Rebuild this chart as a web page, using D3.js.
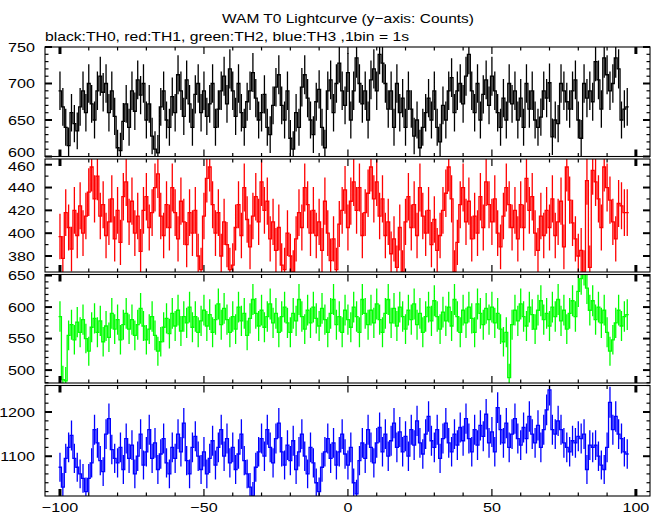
<!DOCTYPE html>
<html><head><meta charset="utf-8">
<script src="https://cdn.jsdelivr.net/npm/d3@7"></script>
<style>body{margin:0;background:#fff}svg{display:block}</style>
</head><body><svg id="c" width="662" height="515"></svg>
<script>
// ---- data (counts per 1 s bin, bins starting at t = -100 s) ----
const binStart = -100;
const binWidth = 1;
const th0 = [
690,668,640,615,660,645,635,668,690,660,
700,672,650,690,710,688,700,660,690,655,
612,608,648,672,640,690,662,705,684,700,
650,672,628,610,605,668,690,650,640,682,
660,712,690,655,705,672,640,685,700,660,
690,655,672,700,640,665,690,710,672,720,
690,655,700,660,640,675,690,715,680,650,
660,685,640,630,670,695,712,670,650,690,
625,610,660,640,695,712,680,650,630,675,
692,640,612,690,705,660,700,728,690,670,
715,650,690,735,700,672,690,650,705,720,
690,740,728,700,665,690,640,700,660,680,
640,690,665,628,650,612,640,660,680,650,
690,640,620,670,650,690,708,660,690,700,
672,710,740,690,660,700,650,685,705,670,
710,690,660,640,680,650,700,672,690,650,
680,640,700,665,690,650,640,654,690,680,
701,627,650,645,700,690,675,665,690,705,
650,625,700,680,690,675,730,705,665,735,
712,690,700,735,720,650,665,668];
const th1 = [
397,378,418,405,386,420,398,424,400,415,
436,458,430,450,415,425,398,410,430,395,
420,392,432,445,410,428,400,415,384,420,
432,405,418,440,452,415,398,425,405,440,
418,395,428,410,390,418,400,420,380,368,
415,448,458,425,400,418,380,410,390,368,
372,405,425,398,440,412,388,415,432,410,
445,420,428,395,410,385,405,372,368,400,
380,366,395,418,405,440,425,400,420,398,
410,385,428,400,376,395,368,408,420,438,
405,428,445,420,440,398,418,435,458,430,
445,415,430,398,410,382,395,370,405,366,
410,432,405,425,398,440,415,400,420,390,
412,385,398,420,435,458,430,366,392,425,
440,410,428,395,415,400,432,405,445,425,
410,430,400,388,415,440,425,405,420,395,
425,405,448,420,432,400,385,415,398,420,
405,430,398,410,428,388,458,429,409,395,
380,385,366,446,370,455,445,430,405,458,
440,429,410,395,426,424,418,418];
const th2 = [
585,485,483,555,572,548,576,560,580,550,
530,568,582,560,578,545,570,552,590,565,
580,548,572,590,565,580,555,572,598,570,
548,565,585,555,530,545,568,582,558,590,
570,595,562,585,575,600,568,585,560,578,
595,570,588,560,580,605,572,598,580,560,
585,565,600,578,590,555,582,612,590,570,
595,568,585,605,575,590,560,585,600,575,
560,590,578,612,585,565,595,575,600,582,
570,598,580,560,590,612,572,585,560,595,
580,568,600,585,560,612,590,572,595,575,
605,580,560,590,612,575,598,570,600,585,
565,595,580,605,572,590,560,585,600,578,
610,585,565,592,578,600,570,612,585,560,
595,575,600,582,560,605,590,572,598,580,
600,575,590,565,545,560,488,572,595,578,
605,585,570,600,588,565,595,610,580,590,
570,600,585,612,578,595,565,590,610,585,
625,645,660,630,595,610,580,600,575,595,
560,530,548,575,595,570,585,588];
const th3 = [
1075,1030,1095,1120,1147,1095,1075,1060,1050,1020,
1050,1085,1160,1130,1090,1065,1150,1185,1115,1095,
1085,1120,1070,1140,1095,1125,1060,1100,1150,1080,
1110,1160,1095,1130,1070,1105,1140,1085,1060,1120,
1095,1150,1110,1175,1090,1060,1120,1145,1100,1070,
1110,1060,1095,1135,1080,1120,1160,1100,1140,1085,
1120,1070,1105,1150,1090,1060,1030,1010,1075,1110,
1140,1100,1160,1120,1085,1140,1175,1110,1080,1125,
1090,1135,1070,1110,1150,1100,1060,1120,1085,1040,
1020,1075,1110,1140,1095,1130,1080,1110,1150,1105,
1080,1120,1040,1015,1090,1130,1095,1160,1120,1085,
1130,1165,1110,1150,1100,1135,1175,1120,1155,1110,
1145,1100,1160,1125,1180,1130,1105,1150,1190,1135,
1120,1160,1095,1140,1175,1130,1110,1150,1125,1165,
1135,1185,1140,1110,1160,1125,1170,1145,1195,1130,
1155,1110,1210,1160,1130,1175,1120,1150,1185,1140,
1125,1165,1140,1190,1150,1130,1170,1120,1160,1205,
1250,1160,1150,1180,1160,1130,1120,1110,1135,1130,
1145,1140,1150,1070,1125,1120,1125,1100,1080,1070,
1120,1222,1160,1190,1150,1140,1110,1105];

const seriesList = [th0, th1, th2, th3];
const colors = ["#000000", "#ff0000", "#00ff00", "#0000ff"];
const yDomains = [[600, 750], [366, 465], [479.5, 651.7], [1010, 1260]];
const yMajorTicks = [[600, 650, 700, 750], [380, 400, 420, 440, 460], [500, 550, 600, 650], [1100, 1200]];
const yMinorStep = [10, 10, 10, 20];
const xMajorTicks = [-100, -50, 0, 50, 100];
const xMinorStep = 10;
const titleText = "WAM T0 Lightcurve (y\u2212axis: Counts)";
const subtitleText = "black:TH0, red:TH1, green:TH2, blue:TH3 ,1bin = 1s";

// ---- layout ----
const W = 662, H = 515;
const left = 45, right = 650;
const panels = [{top: 47, bottom: 156.5}, {top: 159, bottom: 272}, {top: 274.5, bottom: 383}, {top: 385.5, bottom: 496}];
const FONT = "'Liberation Sans', Arial, Helvetica, sans-serif";
const STRETCH = 1.24;

const svg = d3.select("#c");
svg.append("rect").attr("width", W).attr("height", H).attr("fill", "#fff");

const x = d3.scaleLinear().domain([-105.2, 104.9]).range([left, right]);

function label(g, px, py, s, anchor, size, fixedLen) {
  const t = g.append("text").attr("x", px).attr("y", py).attr("text-anchor", anchor)
    .attr("font-family", FONT).attr("font-size", size).attr("fill", "#000").text(s);
  const L = fixedLen || t.node().getComputedTextLength() * STRETCH;
  t.attr("textLength", L).attr("lengthAdjust", "spacingAndGlyphs");
  return t;
}
const fmt = v => (v < 0 ? "\u2212" + Math.abs(v) : String(v));

label(svg, 348, 23, titleText, "middle", 13, 252);
label(svg, 45, 41, subtitleText, "start", 13, 364);

const defs = svg.append("defs");
const labelNudge = {"0_600": -4, "1_460": 2};

panels.forEach((p, i) => {
  const data = seriesList[i];
  const y = d3.scaleLinear().domain(yDomains[i]).range([p.bottom, p.top]);
  const g = svg.append("g");
  const cid = "clip" + i;
  defs.append("clipPath").attr("id", cid).append("rect")
    .attr("x", left).attr("y", p.top).attr("width", right - left).attr("height", p.bottom - p.top);

  const dg = g.append("g").attr("clip-path", `url(#${cid})`);
  // step line
  const pts = [];
  data.forEach((v, k) => {
    const t = binStart + k * binWidth;
    pts.push([t - binWidth / 2, v], [t + binWidth / 2, v]);
  });
  const line = d3.line().x(d => x(d[0])).y(d => y(d[1]));
  dg.append("path").attr("d", line(pts)).attr("fill", "none")
    .attr("stroke", colors[i]).attr("stroke-width", 1.3);
  // error bars (Poisson)
  let eb = "";
  data.forEach((v, k) => {
    const t = binStart + k * binWidth;
    const e = Math.sqrt(v);
    eb += `M${x(t)},${y(v - e)}V${y(v + e)}`;
  });
  dg.append("path").attr("d", eb).attr("fill", "none")
    .attr("stroke", colors[i]).attr("stroke-width", 1.3);

  // frame
  g.append("rect").attr("x", left).attr("y", p.top).attr("width", right - left)
    .attr("height", p.bottom - p.top).attr("fill", "none").attr("stroke", "#000").attr("stroke-width", 1.1);

  // y ticks
  const [y0, y1] = yDomains[i];
  const minors = d3.range(Math.ceil(y0 / yMinorStep[i]) * yMinorStep[i], y1 + 1e-9, yMinorStep[i]);
  minors.forEach(v => {
    const major = yMajorTicks[i].includes(v);
    const len = major ? 7 : 3.5;
    const sw = major ? 2 : 1.2;
    const yy = y(v);
    g.append("line").attr("x1", left).attr("x2", left + len).attr("y1", yy).attr("y2", yy).attr("stroke", "#000").attr("stroke-width", sw);
    g.append("line").attr("x1", right).attr("x2", right - len).attr("y1", yy).attr("y2", yy).attr("stroke", "#000").attr("stroke-width", sw);
  });
  yMajorTicks[i].forEach(v => {
    const nudge = labelNudge[i + "_" + v] || 0;
    label(svg, 35, y(v) + 4.7 + nudge, fmt(v), "end", 13);
  });

  // x ticks (top and bottom of each panel, inward)
  const xs = d3.range(-100, 101, xMinorStep);
  xs.forEach(t => {
    const major = xMajorTicks.includes(t);
    const len = major ? 7 : 3.5;
    const sw = (t === -100 || t === 100) ? 3 : 1.2;
    const xx = x(t);
    g.append("line").attr("x1", xx).attr("x2", xx).attr("y1", p.top).attr("y2", p.top + len).attr("stroke", "#000").attr("stroke-width", sw);
    g.append("line").attr("x1", xx).attr("x2", xx).attr("y1", p.bottom).attr("y2", p.bottom - len).attr("stroke", "#000").attr("stroke-width", sw);
  });
});

// bottom x labels
xMajorTicks.forEach(t => {
  label(svg, x(t), 512, fmt(t), "middle", 13);
});
</script>
</body></html>
